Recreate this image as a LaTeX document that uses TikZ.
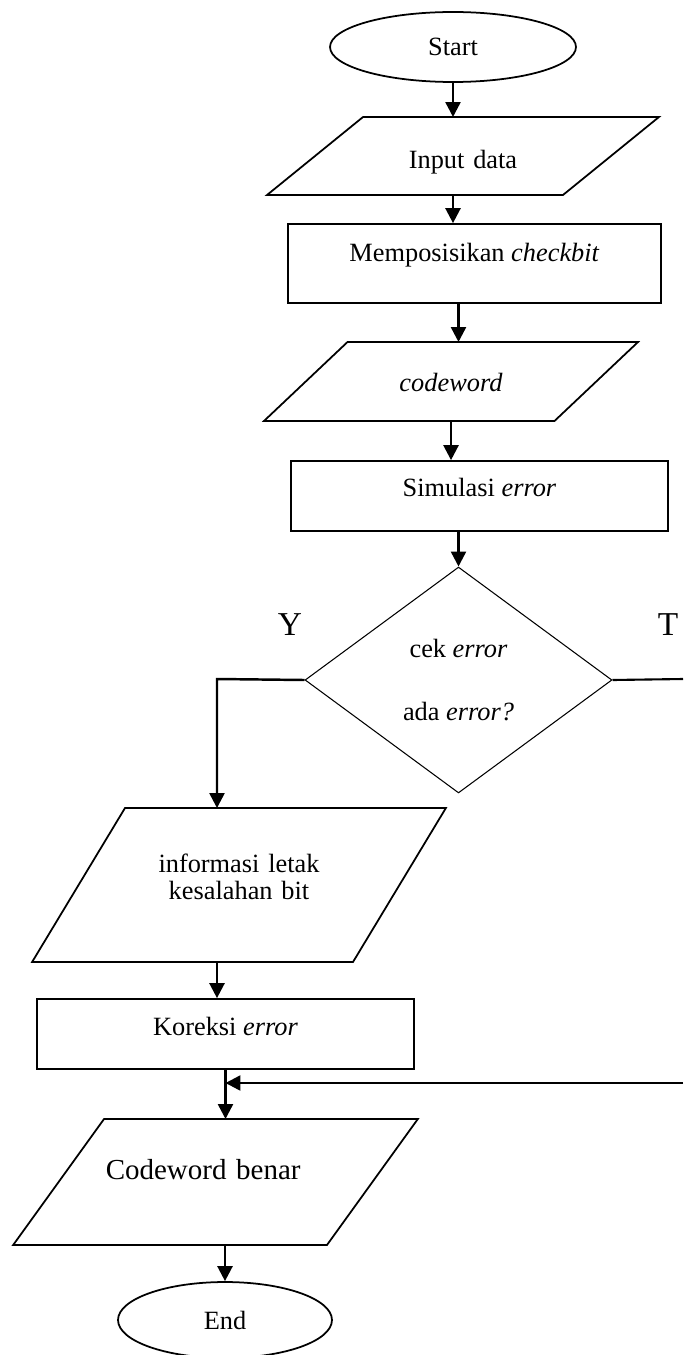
\documentclass[tikz,border=0pt]{standalone}
\usepackage{fontspec}
\setmainfont{Liberation Serif}
\usetikzlibrary{shapes.geometric}
\usetikzlibrary{arrows.meta}
\usetikzlibrary{calc}

\begin{document}
\begin{tikzpicture}[x=0.02cm, y=-0.02cm, font=\fontsize{15}{15}\selectfont]
	\tikzset{
		termnode/.style={ellipse, draw=black, line width=1pt, inner sep=0pt},
		ionode/.style={trapezium, draw=black, line width=1pt, inner xsep=0pt, outer sep=0pt, align=center},
		procnode/.style={rectangle, draw=black, line width=1pt, inner sep=0pt},
		decnode/.style={diamond, draw=black, line width=0.6pt, inner sep=0pt},
		yesno/.style={font=\fontsize{19}{19}\selectfont},
		arr/.style={-{Triangle[length=8.5pt,width=8.5pt]}, line width=1.4pt},
		line/.style={line width=1.2pt},
	}
	\useasboundingbox (0,0) rectangle (683,1355);

	\node[termnode, minimum width=4.92cm, minimum height=1.4cm] (start) at (453,47) {Start};
	\node[ionode, trapezium left angle=39.1, trapezium right angle=140.9, text width=113.8pt, inner ysep=14.9pt, text height=14.6pt, text depth=0pt] (inp) at (463,156) {Input data};
	\node[procnode, minimum width=7.46cm, minimum height=1.58cm, text height=10pt, text depth=12.5pt] (posisi) at (474.5,263.5) {Memposisikan \textit{checkbit}};
	\node[ionode, trapezium left angle=43.4, trapezium right angle=136.6, text width=117.8pt, inner ysep=16.98pt, text height=11pt, text depth=0pt] (cw) at (451,381.5) {\textit{codeword}};
	\node[procnode, minimum width=7.54cm, minimum height=1.4cm, text height=10pt, text depth=9pt] (sim) at (479.5,496) {Simulasi \textit{error}};

	\draw[arr] (start.south) -- (start.south |- inp.north);
	\draw[arr] (inp.south -| start.south) -- (posisi.north -| start.south);

	\node[decnode, minimum width=6.14cm, minimum height=4.52cm, align=center] (cek) at (458.5,680) {cek \textit{error}\\[20.7pt]ada \textit{error?}};
	\node[yesno] (ya) at (290,625) {Y};
	\node[yesno] (tidak) at (668,625) {T};

	\draw[arr] (posisi.south -| cek.north) -- (cw.north -| cek.north);
	\draw[arr] (cw.south) -- (cw.south |- sim.north);
	\draw[arr] (sim.south -| cek.north) -- (cek.north);

	\coordinate (ybend) at (217,679);
	\coordinate (tend) at (683,679);
	\coordinate (tback) at (683,1083);

	\node[ionode, trapezium left angle=58.9, trapezium right angle=121.1, text width=129.8pt, inner ysep=26.8pt, text height=10pt, text depth=24pt] (info) at (239,885) {informasi letak\\kesalahan bit};
	\node[procnode, minimum width=7.54cm, minimum height=1.4cm, text height=10pt, text depth=8pt] (koreksi) at (225.5,1034) {Koreksi \textit{error}};
	\node[ionode, trapezium left angle=54.2, trapezium right angle=125.8, text width=126.9pt, inner ysep=23.55pt, font=\fontsize{16.5}{16.5}\selectfont, text height=11pt, text depth=13.6pt] (benar) at (215.5,1182) {Codeword benar\rule{14pt}{0pt}};
	\node[termnode, minimum width=4.28cm, minimum height=1.52cm] (fin) at (225,1320) {End};

	\draw[arr] (cek.west) -- (ybend) -- (ybend |- info.north);
	\draw[line] (cek.east) -- (tend);
	\draw[arr] (info.south -| ybend) -- (koreksi.north -| ybend);
	\draw[arr] (koreksi.south) -- (koreksi.south |- benar.north);
	\draw[arr] (tback) -- (tback -| koreksi.south);
	\draw[arr] (benar.south -| fin.north) -- (fin.north);
\end{tikzpicture}
\end{document}
